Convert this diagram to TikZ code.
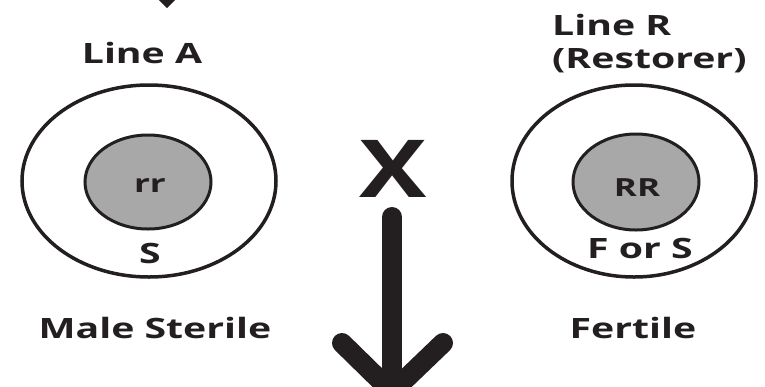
\documentclass[tikz,border=0pt]{standalone}
\usepackage{fontspec}
\usetikzlibrary{shapes.geometric}
\newfontfamily\labfont{Open Sans}[FakeStretch=1.4]
\definecolor{ink}{RGB}{35,31,32}
\definecolor{core}{RGB}{168,168,168}
\tikzset{
  lbl/.style={font=\labfont\bfseries\fontsize{28}{30}\selectfont, text=ink, inner sep=0pt, anchor=base},
  small/.style={lbl, font=\labfont\bfseries\fontsize{25}{27}\selectfont},
  outer/.style={ellipse, draw=ink, line width=3.5pt, inner sep=0pt},
  inner/.style={ellipse, draw=ink, line width=3pt, fill=core, inner sep=0pt},
  bigarrow/.style={draw=ink, line width=20pt, line cap=round, line join=miter}
}
\begin{document}
\begin{tikzpicture}[x=1pt,y=-1pt]
\useasboundingbox (0,0) rectangle (765,386);
\clip (0,0) rectangle (765,386);
\fill[white] (0,0) rectangle (765,386);
% top arrow tip
\coordinate (ta) at (167,-6);
\draw[bigarrow] (117,-56) -- (ta) -- (217,-56);
% left
\node[outer, minimum width=254pt, minimum height=192pt] (lo) at (149,181) {};
\node[inner, minimum width=126pt, minimum height=94pt] (li) at (148,182) {};
\node[small] (lrr) at (150,192) {rr};
\node[lbl] (ls) at (150,263) {S};
\node[lbl] (la) at (142,63) {Line A};
\node[lbl] (lms) at (155,338) {Male Sterile};
% right
\node[outer, minimum width=244pt, minimum height=192pt] (ro) at (634,181) {};
\node[inner, minimum width=126pt, minimum height=96pt] (ri) at (636,182) {};
\node[small] (rrr) at (637,196) {RR};
\node[lbl] (rfs) at (640,258) {F or S};
\node[lbl, anchor=base west] (lr) at (552,35) {Line R};
\node[lbl, anchor=base west] (lrest) at (552,68) {(Restorer)};
\node[lbl] (rf) at (633,338) {Fertile};
% cross
\node[lbl, font=\labfont\bfseries\fontsize{80}{80}\selectfont, xscale=0.9] (x) at (393,197) {X};
\coordinate (s0) at (392,217);
\coordinate (s1) at (392,392);
\draw[bigarrow] (s0) -- (s1);
\draw[bigarrow] (342,343) -- (s1) -- (443,343);
\end{tikzpicture}
\end{document}
